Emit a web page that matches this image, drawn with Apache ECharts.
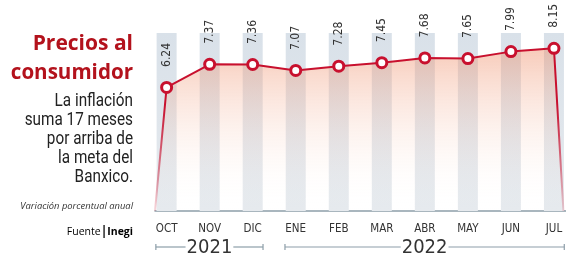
<!DOCTYPE html>
<html>
<head>
<meta charset="utf-8">
<script src="https://cdn.jsdelivr.net/npm/echarts@6/dist/echarts.min.js"></script>
<style>
  html, body { margin: 0; padding: 0; background: #fff; }
  #chart { width: 566px; height: 258px; }
</style>
</head>
<body>
<div id="chart"></div>
<script>
// datos: inflación anual (%)
var months = ['OCT', 'NOV', 'DIC', 'ENE', 'FEB', 'MAR', 'ABR', 'MAY', 'JUN', 'JUL']
var values = [6.24, 7.37, 7.36, 7.07, 7.28, 7.45, 7.68, 7.65, 7.99, 8.15]
var years = ['2021', '2022']
var yearFirst = [0, 3]
var yearLast = [2, 9]

var RED = '#c8102e'
var NARROW = '"DejaVu Sans Condensed", sans-serif'
var yMin = 0.2
var yMax = 8.9

var myChart = echarts.init(document.getElementById('chart'))

// la línea baja al eje en ambos extremos
var lineData = [{ value: [-0.27, yMin], symbol: 'none', label: { show: false } }]
values.forEach(function (v, i) {
  lineData.push([i, v])
})
lineData.push({ value: [9.22, yMin], symbol: 'none', label: { show: false } })

var option = {
  animation: false,
  grid: { left: 155, right: 0, top: 33, bottom: 47 },
  xAxis: {
    type: 'value',
    min: -0.27,
    max: 9.28,
    splitLine: { show: false },
    axisTick: { show: false },
    axisLine: { show: true, lineStyle: { color: '#8d9ea9', width: 1.5 } },
    axisLabel: {
      customValues: months.map(function (m, i) { return i }),
      formatter: function (v) { return months[Math.round(v)] },
      color: '#333',
      fontFamily: NARROW,
      fontSize: 11.5,
      margin: 12
    }
  },
  yAxis: {
    type: 'value',
    min: yMin,
    max: yMax,
    show: false
  },
  series: [
    {
      type: 'bar',
      barWidth: 20,
      data: values.map(function (v, i) { return [i, v] }),
      itemStyle: { color: 'rgba(0,0,0,0)' },
      showBackground: true,
      backgroundStyle: {
        color: new echarts.graphic.LinearGradient(0, 0, 0, 1, [
          { offset: 0, color: '#d9e1e9' },
          { offset: 1, color: '#e6eaee' }
        ])
      },
      silent: true
    },
    {
      type: 'line',
      data: lineData,
      symbol: 'circle',
      symbolSize: 10,
      itemStyle: { color: '#fff', borderColor: RED, borderWidth: 3 },
      lineStyle: {
        width: 2,
        color: new echarts.graphic.LinearGradient(0, 0, 0, 1, [
          { offset: 0, color: RED },
          { offset: 0.35, color: RED },
          { offset: 1, color: 'rgba(200,16,46,0.15)' }
        ])
      },
      areaStyle: {
        color: new echarts.graphic.LinearGradient(0, 0, 0, 1, [
          { offset: 0, color: 'rgba(238,135,95,0.62)' },
          { offset: 1, color: 'rgba(255,255,255,0)' }
        ])
      },
      label: {
        show: true,
        position: 'top',
        rotate: 90,
        align: 'left',
        verticalAlign: 'middle',
        distance: 14,
        color: '#333',
        fontFamily: NARROW,
        fontSize: 12,
        formatter: function (p) { return p.value[1].toFixed(2) }
      }
    }
  ]
}
myChart.setOption(option)

// textos de la izquierda
var leftText = [
  { t: 'Precios al', y: 44, size: 21, weight: 'bold', color: '#b3121c', font: '"Open Sans", sans-serif', sx: 1 },
  { t: 'consumidor', y: 73, size: 21, weight: 'bold', color: '#b3121c', font: '"Open Sans", sans-serif', sx: 0.98 },
  { t: 'La inflación', y: 101, size: 18, color: '#222', font: 'Roboto, sans-serif', sx: 0.85 },
  { t: 'suma 17 meses', y: 120, size: 18, color: '#222', font: 'Roboto, sans-serif', sx: 0.85 },
  { t: 'por arriba de', y: 139, size: 18, color: '#222', font: 'Roboto, sans-serif', sx: 0.85 },
  { t: 'la meta del', y: 158, size: 18, color: '#222', font: 'Roboto, sans-serif', sx: 0.85 },
  { t: 'Banxico.', y: 177, size: 18, color: '#222', font: 'Roboto, sans-serif', sx: 0.85 },
  { t: 'Variación porcentual anual', y: 206, size: 9.4, style: 'italic', color: '#333', font: '"Open Sans", sans-serif', sx: 1 }
]
var graphic = leftText.map(function (d) {
  return {
    type: 'text',
    x: 133,
    y: d.y,
    scaleX: d.sx,
    style: {
      text: d.t,
      align: 'right',
      verticalAlign: 'middle',
      fill: d.color,
      font: (d.style || 'normal') + ' ' + (d.weight || 'normal') + ' ' + d.size + 'px ' + d.font
    }
  }
})
graphic.push({
  type: 'text',
  x: 133,
  y: 232,
  style: {
    text: '{a|Fuente}{b||}{c|Inegi}',
    align: 'right',
    verticalAlign: 'middle',
    rich: {
      a: { fontSize: 10.5, color: '#333', fontFamily: 'Open Sans' },
      b: { fontSize: 12, color: RED, fontWeight: 'bold', fontFamily: 'Open Sans' },
      c: { fontSize: 10.5, color: '#222', fontWeight: 'bold', fontFamily: 'Open Sans' }
    }
  }
})

// corchetes de los años
var ctx = document.createElement('canvas').getContext('2d')
var yearFont = '20px ' + NARROW
ctx.font = yearFont
var yy = 247
years.forEach(function (yr, k) {
  var x0 = myChart.convertToPixel({ gridIndex: 0 }, [yearFirst[k] - 0.25, yMin])[0]
  var x1 = myChart.convertToPixel({ gridIndex: 0 }, [yearLast[k] + 0.24, yMin])[0]
  var cx = (x0 + x1) / 2
  var w = ctx.measureText(yr).width
  var lc = '#8d9ea9'
  graphic.push(
    { type: 'line', shape: { x1: x0, y1: yy, x2: cx - w / 2 - 1, y2: yy }, style: { stroke: lc, lineWidth: 1.2 } },
    { type: 'line', shape: { x1: cx + w / 2 + 1, y1: yy, x2: x1, y2: yy }, style: { stroke: lc, lineWidth: 1.2 } },
    { type: 'line', shape: { x1: x0, y1: yy - 3, x2: x0, y2: yy + 3 }, style: { stroke: lc, lineWidth: 1.2 } },
    { type: 'line', shape: { x1: x1, y1: yy - 3, x2: x1, y2: yy + 3 }, style: { stroke: lc, lineWidth: 1.2 } },
    {
      type: 'text',
      x: cx,
      y: yy + 1,
      style: { text: yr, align: 'center', verticalAlign: 'middle', fill: '#333', font: yearFont }
    }
  )
})
myChart.setOption({ graphic: graphic })
</script>
</body>
</html>
